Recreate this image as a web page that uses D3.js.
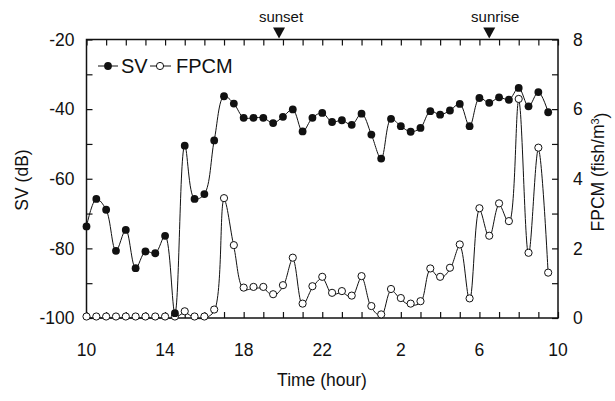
<!DOCTYPE html>
<html>
<head>
<meta charset="utf-8">
<script src="https://d3js.org/d3.v7.min.js"></script>
<style>
  body { margin: 0; background: #fff; }
  text { font-family: "Liberation Sans", Arial, sans-serif; fill: #111; }
</style>
</head>
<body>
<script>
// time of each sample, hours since midnight of the first day (10:00 .. 09:30 next day)
const hours = [10, 10.5, 11, 11.5, 12, 12.5, 13, 13.5, 14, 14.5, 15, 15.5, 16, 16.5, 17, 17.5,
  18, 18.5, 19, 19.5, 20, 20.5, 21, 21.5, 22, 22.5, 23, 23.5, 24, 24.5, 25, 25.5,
  26, 26.5, 27, 27.5, 28, 28.5, 29, 29.5, 30, 30.5, 31, 31.5, 32, 32.5, 33, 33.5]

const sv = [-73.7, -65.8, -68.9, -80.7, -74.7, -85.7, -80.9, -81.4, -76.4, -98.6, -50.5, -65.8,
  -64.4, -49.0, -36.3, -38.4, -42.5, -42.5, -42.5, -44.0, -42.2, -40.1, -46.4, -42.5,
  -41.1, -43.7, -43.2, -44.5, -41.3, -47.3, -54.2, -42.8, -44.9, -46.5, -45.4, -40.6,
  -41.6, -40.4, -38.5, -44.9, -36.8, -38.2, -36.6, -37.3, -33.9, -39.2, -35.1, -40.9]

const fpcm = [0, 0, 0, 0, 0, 0, 0, 0, 0, 0, 0.15, 0, 0, 0.2, 3.4, 2.05,
  0.83, 0.85, 0.85, 0.64, 0.9, 1.69, 0.37, 0.87, 1.14, 0.68, 0.73, 0.6, 1.16, 0.3, 0.06, 0.79,
  0.53, 0.37, 0.44, 1.38, 1.14, 1.4, 2.07, 0.52, 3.11, 2.32, 3.25, 2.74, 6.25, 1.83, 4.85, 1.26]

const xTicks = [10, 14, 18, 22, 26, 30, 34]
const svTicks = [-100, -80, -60, -40, -20]
const fpcmTicks = [0, 2, 4, 6, 8]
const events = [{ name: "sunset", h: 19.8, dx: 2 }, { name: "sunrise", h: 30.5, dx: 6 }]

const width = 615, height = 401
const margin = { top: 39.5, right: 57, bottom: 83, left: 86.5 }

const svg = d3.select("body").append("svg")
  .attr("width", width)
  .attr("height", height)

const x = d3.scaleLinear().domain([10, 34]).range([margin.left, width - margin.right])
const yL = d3.scaleLinear().domain([-100, -20]).range([height - margin.bottom, margin.top])
const yR = d3.scaleLinear().domain([0, 8]).range([height - margin.bottom, margin.top])

// axes (ticks pointing inwards)
const fmtHour = d => String(d % 24)
svg.append("g")
  .attr("transform", `translate(0,${height - margin.bottom})`)
  .call(d3.axisBottom(x).ticks(24).tickSize(-6).tickFormat(""))
svg.append("g")
  .attr("transform", `translate(0,${margin.top})`)
  .call(d3.axisTop(x).ticks(24).tickSize(-6).tickFormat(""))
svg.append("g")
  .attr("transform", `translate(${margin.left},0)`)
  .call(d3.axisLeft(yL).ticks(8).tickSize(-6).tickFormat(""))
svg.append("g")
  .attr("transform", `translate(${width - margin.right},0)`)
  .call(d3.axisRight(yR).ticks(8).tickSize(-6).tickFormat(""))
svg.selectAll(".domain").remove()
svg.selectAll(".tick line").attr("stroke", "#111").attr("stroke-width", 1.2)

svg.append("rect")
  .attr("x", margin.left).attr("y", margin.top)
  .attr("width", x.range()[1] - x.range()[0])
  .attr("height", yL.range()[0] - yL.range()[1])
  .attr("fill", "none").attr("stroke", "#111").attr("stroke-width", 1.5)

// tick labels
svg.append("g").selectAll("text").data(xTicks).join("text")
  .attr("x", d => x(d)).attr("y", 356)
  .attr("text-anchor", "middle").style("font-size", "17.5px")
  .text(fmtHour)
svg.append("g").selectAll("text").data(svTicks).join("text")
  .attr("x", margin.left - 12).attr("y", d => yL(d)).attr("dy", "0.36em")
  .attr("text-anchor", "end").style("font-size", "17.5px")
  .text(d => d)
svg.append("g").selectAll("text").data(fpcmTicks).join("text")
  .attr("x", width - margin.right + 15).attr("y", d => yR(d)).attr("dy", "0.36em")
  .attr("text-anchor", "start").style("font-size", "17.5px")
  .text(d => d)

// axis titles
svg.append("text")
  .attr("x", 322).attr("y", 386)
  .attr("text-anchor", "middle").style("font-size", "17.5px")
  .text("Time (hour)")
svg.append("text")
  .attr("transform", "translate(28,180) rotate(-90)")
  .attr("text-anchor", "middle").style("font-size", "17.5px")
  .text("SV (dB)")
const rt = svg.append("text")
  .attr("transform", "translate(604,172) rotate(-90)")
  .attr("text-anchor", "middle").style("font-size", "17.5px")
rt.append("tspan").text("FPCM (fish/m")
rt.append("tspan").attr("dy", "-0.45em").style("font-size", "11px").text("3")
rt.append("tspan").attr("dy", "0.45em").text(")")

// sunset / sunrise markers
const ev = svg.append("g").selectAll("g").data(events).join("g")
  .attr("transform", d => `translate(${x(d.h)},${margin.top})`)
ev.append("path")
  .attr("d", "M-6,-12 L6,-12 L0,-1 Z")
  .attr("fill", "#111")
ev.append("text")
  .attr("x", d => d.dx).attr("y", -18)
  .attr("text-anchor", "middle").style("font-size", "15px")
  .text(d => d.name)

// data
const curve = d3.curveCatmullRom.alpha(0.5)
const lineL = d3.line().x((d, i) => x(hours[i])).y(d => yL(d)).curve(curve)
const lineR = d3.line().x((d, i) => x(hours[i])).y(d => yR(d)).curve(curve)

svg.append("path").datum(fpcm)
  .attr("d", lineR).attr("fill", "none").attr("stroke", "#111").attr("stroke-width", 1)
svg.append("g").selectAll("circle").data(fpcm).join("circle")
  .attr("cx", (d, i) => x(hours[i])).attr("cy", d => yR(d) - 1.5)
  .attr("r", 3.6).attr("fill", "#fff").attr("stroke", "#111").attr("stroke-width", 1)

svg.append("path").datum(sv)
  .attr("d", lineL).attr("fill", "none").attr("stroke", "#111").attr("stroke-width", 1)
svg.append("g").selectAll("circle").data(sv).join("circle")
  .attr("cx", (d, i) => x(hours[i])).attr("cy", d => yL(d))
  .attr("r", 3.9).attr("fill", "#111")

// legend
const lg = svg.append("g").attr("transform", "translate(0,66)")
lg.append("line").attr("x1", 98).attr("x2", 118).attr("stroke", "#111")
lg.append("circle").attr("cx", 108).attr("r", 3.9).attr("fill", "#111")
lg.append("text").attr("x", 121).attr("dy", "0.36em").style("font-size", "20px").text("SV")
lg.append("line").attr("x1", 150).attr("x2", 171).attr("stroke", "#111")
lg.append("circle").attr("cx", 160).attr("r", 3.6).attr("fill", "#fff").attr("stroke", "#111")
lg.append("text").attr("x", 176).attr("dy", "0.36em").style("font-size", "20px").text("FPCM")
</script>
</body>
</html>
